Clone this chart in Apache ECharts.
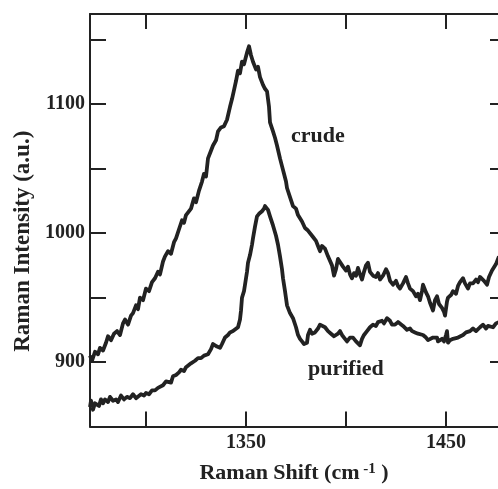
<!DOCTYPE html>
<html>
<head>
<meta charset="utf-8">
<script src="https://cdn.jsdelivr.net/npm/echarts@6/dist/echarts.min.js"></script>
<style>
  html, body { margin: 0; padding: 0; background: #fff; }
  #ramanChart { width: 498px; height: 489px; }
</style>
</head>
<body>
<div id="ramanChart"></div>
<script>
// 数据
var crudeShift = [1272, 1273, 1274.5, 1276, 1277, 1278.5, 1280, 1281, 1282.5, 1284, 1285.5, 1287, 1288.5, 1289.5, 1291, 1292.5, 1293.5, 1295, 1296, 1297, 1298.5, 1300, 1301.5, 1303, 1304.5, 1306, 1307, 1308.5, 1309.5, 1311, 1312.5, 1314, 1315, 1316.5, 1318, 1319, 1320, 1321, 1322.5, 1324, 1325, 1326.5, 1328, 1329, 1330, 1331, 1332, 1333.5, 1335, 1336, 1337.5, 1339, 1340.5, 1342, 1343, 1344, 1345, 1346, 1347, 1348, 1349, 1350, 1350.5, 1351.5, 1352.5, 1353.5, 1355, 1356, 1357, 1358.5, 1359.5, 1360.5, 1361.5, 1362, 1363.5, 1364.5, 1365.5, 1367, 1368, 1369, 1370, 1370.5, 1372, 1373.5, 1375, 1376, 1377, 1378, 1379.5, 1381, 1382, 1383.5, 1385, 1386, 1387, 1388, 1389.5, 1391, 1392, 1393, 1394, 1395, 1396, 1397, 1398.5, 1400, 1401, 1402, 1403, 1404, 1405, 1406, 1407, 1408, 1409, 1410, 1411, 1412, 1413.5, 1415, 1416, 1417, 1418.5, 1420, 1421, 1422, 1423.5, 1425, 1426, 1427, 1428.5, 1430, 1431, 1432, 1433.5, 1435, 1436, 1437, 1438, 1438.5, 1440, 1441, 1442, 1443.5, 1444.5, 1445.5, 1446.5, 1448, 1449, 1449.5, 1450.5, 1451, 1452.5, 1453.5, 1455, 1456, 1457, 1458.5, 1459.5, 1461, 1462, 1463.5, 1465, 1466, 1467, 1468, 1469, 1470.5, 1471.5, 1473, 1474, 1475, 1476, 1476.5]
var crudeIntensity = [905, 901, 908, 906, 911, 909, 915, 920, 917, 922, 924, 921, 930, 933, 929, 936, 938, 944, 941, 950, 948, 957, 955, 962, 965, 970, 968, 978, 982, 986, 984, 993, 996, 1003, 1010, 1008, 1014, 1015, 1019, 1027, 1024, 1033, 1040, 1046, 1044, 1058, 1062, 1068, 1072, 1079, 1082, 1083, 1088, 1098, 1104, 1111, 1118, 1126, 1124, 1133, 1131, 1137, 1140, 1145, 1138, 1133, 1127, 1129, 1121, 1115, 1112, 1110, 1098, 1086, 1079, 1074, 1068, 1058, 1052, 1046, 1040, 1035, 1028, 1021, 1019, 1014, 1015, 1009, 1004, 1002, 1001, 997, 994, 990, 986, 990, 988, 982, 983, 975, 967, 972, 980, 979, 974, 971, 974, 968, 965, 969, 967, 973, 968, 964, 970, 975, 977, 970, 967, 966, 969, 964, 967, 972, 969, 963, 960, 963, 959, 957, 961, 966, 961, 957, 955, 951, 953, 948, 955, 960, 954, 951, 946, 940, 948, 951, 945, 942, 939, 936, 947, 950, 952, 955, 953, 959, 962, 965, 961, 957, 961, 961, 964, 962, 966, 967, 963, 960, 966, 971, 970, 976, 980, 982]

var purifiedShift = [1272, 1272.5, 1273.5, 1274.5, 1275.5, 1276.5, 1277.5, 1278.5, 1279.5, 1281, 1282, 1283.5, 1285, 1286, 1287.5, 1289, 1290.5, 1292, 1293.5, 1295, 1296, 1297.5, 1299, 1300, 1301.5, 1303, 1304.5, 1306, 1307, 1308.5, 1310, 1311, 1312.5, 1313.5, 1315, 1316.5, 1317.5, 1319, 1320, 1321, 1322.5, 1323.5, 1324.5, 1326, 1327.5, 1329, 1330, 1331, 1332.5, 1333.5, 1334.5, 1335.5, 1337, 1338, 1339.5, 1341, 1342, 1343.5, 1344.5, 1346, 1347, 1347.5, 1348, 1349, 1349.5, 1350.5, 1351, 1352, 1353, 1353.5, 1354.5, 1355.5, 1356.5, 1358, 1359, 1359.5, 1360.5, 1361, 1362, 1363.5, 1365, 1366, 1367, 1368, 1368.5, 1369.5, 1370.5, 1372, 1373.5, 1375, 1376, 1377, 1378, 1379, 1380.5, 1381, 1382, 1383, 1384.5, 1386, 1387, 1388, 1389.5, 1391, 1392.5, 1394, 1394.5, 1396, 1397, 1398, 1399, 1400.5, 1402, 1403.5, 1405, 1406, 1407, 1408, 1409, 1410.5, 1412, 1413.5, 1415, 1416, 1418, 1419, 1420.5, 1422, 1423, 1424.5, 1426, 1427, 1428.5, 1430.5, 1432, 1433, 1434.5, 1436, 1437, 1438.5, 1440, 1441, 1442, 1443.5, 1445.5, 1446, 1447, 1448, 1449, 1450, 1450.5, 1451, 1452, 1453.5, 1454.5, 1456, 1457, 1458.5, 1460, 1461, 1462, 1463.5, 1465, 1465.5, 1467, 1468.5, 1470, 1471, 1472, 1473.5, 1475, 1476.5]
var purifiedIntensity = [865, 870, 863, 868, 869, 866, 871, 868, 871, 869, 873, 870, 871, 869, 874, 871, 873, 872, 875, 872, 873, 875, 874, 876, 875, 878, 878, 880, 879, 882, 885, 886, 884, 889, 890, 892, 894, 893, 896, 897, 899, 898, 901, 903, 903, 905, 904, 906, 910, 914, 915, 912, 911, 914, 919, 921, 923, 924, 925, 927, 933, 940, 950, 955, 960, 970, 977, 983, 991, 996, 1005, 1013, 1015, 1017, 1019, 1021, 1020, 1018, 1013, 1006, 998, 991, 982, 972, 965, 955, 944, 938, 934, 927, 921, 918, 916, 914, 915, 921, 925, 922, 923, 926, 929, 930, 927, 924, 922, 920, 920, 922, 924, 921, 919, 916, 919, 919, 916, 915, 913, 918, 921, 924, 927, 929, 928, 931, 932, 930, 934, 932, 929, 929, 931, 930, 928, 925, 926, 924, 923, 922, 921, 921, 919, 917, 918, 919, 919, 916, 915, 918, 916, 921, 924, 915, 917, 918, 917, 919, 920, 921, 923, 922, 924, 926, 924, 924, 927, 929, 926, 928, 928, 927, 930, 931]

// 刻度
var xTickValues = [1300, 1350, 1400, 1450]
var xLabelValues = [1350, 1450]
var yTickValues = [900, 950, 1000, 1050, 1100, 1150]
var yLabelValues = [900, 1000, 1100]

function pairs (xs, ys) {
  return xs.map((x, i) => [x, ys[i]])
}

var chart = echarts.init(document.getElementById('ramanChart'))
var serif = 'Liberation Serif'
var ink = '#222'

var lineAxis = { lineStyle: { color: ink, width: 2 } }
var tickStyle = { color: ink, width: 2 }
var plain = v => String(v)

chart.setOption({
  animation: false,
  backgroundColor: '#fff',
  grid: { left: 90, right: 0, top: 14, bottom: 60 },
  xAxis: [
    {
      type: 'value',
      min: 1272,
      max: 1476,
      position: 'bottom',
      axisLine: lineAxis,
      splitLine: { show: false },
      axisTick: { inside: true, length: 15, lineStyle: tickStyle, customValues: xTickValues },
      axisLabel: {
        customValues: xLabelValues,
        formatter: plain,
        margin: 6,
        color: ink,
        fontFamily: serif,
        fontWeight: 'bold',
        fontSize: 20
      },
      name: '{b|Raman Shift (cm}{sup| -1}{b| )}',
      nameLocation: 'middle',
      nameGap: 35,
      nameTextStyle: {
        rich: {
          b: { fontFamily: serif, fontWeight: 'bold', fontSize: 22, color: ink },
          sup: { fontFamily: serif, fontWeight: 'bold', fontSize: 15, color: ink, verticalAlign: 'top', padding: [0, 0, 8, 0] }
        }
      }
    },
    {
      type: 'value',
      min: 1272,
      max: 1476,
      position: 'top',
      axisLine: lineAxis,
      splitLine: { show: false },
      axisTick: { inside: true, length: 15, lineStyle: tickStyle, customValues: xTickValues },
      axisLabel: { show: false }
    }
  ],
  yAxis: [
    {
      type: 'value',
      min: 850,
      max: 1170,
      position: 'left',
      axisLine: { show: true, lineStyle: { color: ink, width: 2 } },
      splitLine: { show: false },
      axisTick: { show: true, inside: true, length: 16, lineStyle: tickStyle, customValues: yTickValues },
      axisLabel: {
        customValues: yLabelValues,
        formatter: plain,
        margin: 5,
        color: ink,
        fontFamily: serif,
        fontWeight: 'bold',
        fontSize: 20
      },
      name: 'Raman Intensity (a.u.)',
      nameLocation: 'middle',
      nameGap: 52,
      nameTextStyle: { fontFamily: serif, fontWeight: 'bold', fontSize: 23, color: ink, padding: [0, 42, 0, 0] }
    },
    {
      type: 'value',
      min: 850,
      max: 1170,
      position: 'right',
      axisLine: { show: false },
      splitLine: { show: false },
      axisTick: { show: true, inside: true, length: 8, lineStyle: tickStyle, customValues: yTickValues },
      axisLabel: { show: false }
    }
  ],
  series: [
    {
      name: 'crude',
      type: 'line',
      data: pairs(crudeShift, crudeIntensity),
      showSymbol: false,
      symbol: 'none',
      lineStyle: { color: ink, width: 3.8, join: 'round' },
      markPoint: {
        symbolSize: 0,
        data: [{ coord: [1372.5, 1075] }],
        label: {
          show: true,
          position: 'right',
          distance: 0,
          formatter: 'crude',
          color: ink,
          fontFamily: serif,
          fontWeight: 'bold',
          fontSize: 22
        }
      }
    },
    {
      name: 'purified',
      type: 'line',
      data: pairs(purifiedShift, purifiedIntensity),
      showSymbol: false,
      symbol: 'none',
      lineStyle: { color: ink, width: 3.8, join: 'round' },
      markPoint: {
        symbolSize: 0,
        data: [{ coord: [1381, 894] }],
        label: {
          show: true,
          position: 'right',
          distance: 0,
          formatter: 'purified',
          color: ink,
          fontFamily: serif,
          fontWeight: 'bold',
          fontSize: 22
        }
      }
    }
  ]
})
</script>
</body>
</html>
